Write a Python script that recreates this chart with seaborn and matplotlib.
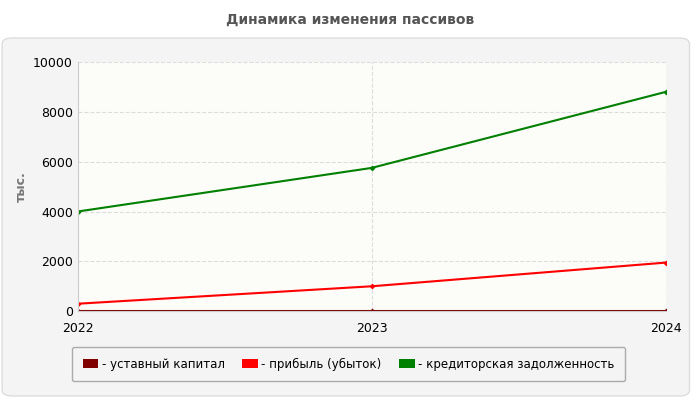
import matplotlib
matplotlib.use("Agg")
import matplotlib.pyplot as plt
import seaborn as sns
import pandas as pd
from matplotlib.patches import FancyBboxPatch

years = [2022, 2023, 2024]
ustavny = [10, 10, 10]
pribyl = [300, 1000, 1950]
kredit = [4000, 5750, 8800]
labels = ["- уставный капитал", "- прибыль (убыток)", "- кредиторская задолженность"]
colors = ["#800000", "#ff0000", "#008000"]

df = pd.DataFrame({"year": years * 3,
                   "value": ustavny + pribyl + kredit,
                   "series": [labels[0]] * 3 + [labels[1]] * 3 + [labels[2]] * 3})

plt.rcParams["font.family"] = "DejaVu Sans"
fig = plt.figure(figsize=(7, 4), dpi=100)
fig.patch.set_facecolor("white")
panel = FancyBboxPatch((0.003, 0.01), 0.982, 0.895, boxstyle="round,pad=0,rounding_size=0.015",
                       transform=fig.transFigure, facecolor="#f4f4f4", edgecolor="#dddddd",
                       zorder=-10)
fig.patches.append(panel)
fig.text(0.5, 0.95, "Динамика изменения пассивов", ha="center", va="center",
         fontsize=10, fontweight="bold", color="#555555")

ax = fig.add_axes([0.111, 0.222, 0.840, 0.623])
ax.set_zorder(1)
ax.set_facecolor("#fcfcf8")
sns.lineplot(data=df, x="year", y="value", hue="series", palette=colors, ax=ax,
             marker="D", markersize=3, markeredgewidth=0, linewidth=1.5, legend=False)
ax.set_xlim(2022, 2024)
ax.set_ylim(0, 10000)
ax.set_xticks(years)
ax.set_xticklabels([str(y) for y in years])
ax.set_yticks(range(0, 10001, 2000))
ax.tick_params(labelsize=9, length=0, colors="#000000")
ax.tick_params(axis="x", pad=8)
ax.grid(True, linestyle="--", color="#dddddd", linewidth=0.8)
ax.set_xlabel("")
ax.set_ylabel("тыс.", fontsize=9, color="#777777", fontweight="bold")
for s in ["top", "right"]:
    ax.spines[s].set_visible(False)
ax.spines["left"].set_color("#cccccc")
ax.spines["bottom"].set_color("#cccccc")

handles = [plt.Rectangle((0, 0), 1, 1, facecolor=c, edgecolor="none") for c in colors]
leg = fig.legend(handles, labels, loc="center", bbox_to_anchor=(0.498, 0.09), ncol=3,
                 fontsize=8.5, frameon=True, handlelength=1.3, handleheight=0.7,
                 handletextpad=0.3, columnspacing=1.5, borderpad=0.9)
leg.get_frame().set_edgecolor("#999999")
leg.get_frame().set_facecolor("#f4f4f4")
fig.savefig("out.png", dpi=100)
